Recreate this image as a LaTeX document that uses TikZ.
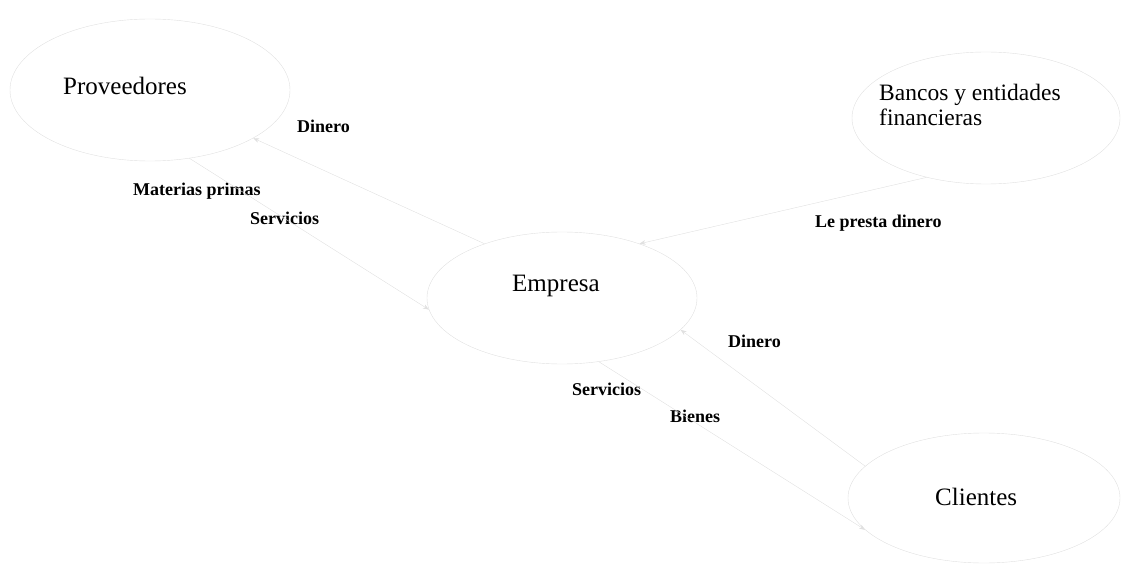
\documentclass[tikz,border=0pt]{standalone}
\usepackage{fontspec}
\setmainfont{Liberation Serif}
\usetikzlibrary{arrows.meta,shapes.geometric}
\begin{document}
\begin{tikzpicture}[x=1pt,y=-1pt,
  entity/.style={draw=black!12,line width=0.4pt,ellipse,inner sep=0pt},
  big/.style={inner sep=0pt,font=\fontsize{25}{28}\selectfont},
  bigb/.style={inner sep=0pt,font=\fontsize{23.5}{26}\selectfont},
  lbl/.style={inner sep=0pt,font=\fontsize{18}{20}\selectfont\bfseries},
  flow/.style={draw=black!12,line width=0.4pt,-{Stealth[length=6pt]}}]
\useasboundingbox (0,0) rectangle (1124,564);
% faint ellipses
\node[entity,minimum width=280pt,minimum height=142pt] (prov) at (150,90) {};
\node[entity,minimum width=268pt,minimum height=132pt] (banc) at (986,118) {};
\node[entity,minimum width=270pt,minimum height=132pt] (emp) at (562,298) {};
\node[entity,minimum width=272pt,minimum height=130pt] (cli) at (984,498) {};
% texts
\node[big,anchor=base west] (tprov) at (63,95) {Proveedores};
\node[bigb,anchor=base west] (tban1) at (879,101) {Bancos y entidades};
\node[bigb,anchor=base west] (tban2) at (879,126) {financieras};
\node[big,anchor=base west] (temp) at (512,291) {Empresa};
\node[big,anchor=base west] (tcli) at (935,505) {Clientes};
\node[lbl,anchor=base west] (l1) at (297,133) {Dinero};
\node[lbl,anchor=base west] (l2) at (133,196) {Materias primas};
\node[lbl,anchor=base west] (l3) at (250,225) {Servicios};
\node[lbl,anchor=base west] (l4) at (815,227) {Le presta dinero};
\node[lbl,anchor=base west] (l5) at (728,347) {Dinero};
\node[lbl,anchor=base west] (l6) at (572,395) {Servicios};
\node[lbl,anchor=base west] (l7) at (670,422) {Bienes};
% faint connectors
\draw[flow] (emp.145) -- (prov.-25);
\draw[flow] (prov.-60) -- (emp.185);
\draw[flow] (banc.225) -- (emp.35);
\draw[flow] (cli.165) -- (emp.-15);
\draw[flow] (emp.-60) -- (cli.195);
\end{tikzpicture}
\end{document}
